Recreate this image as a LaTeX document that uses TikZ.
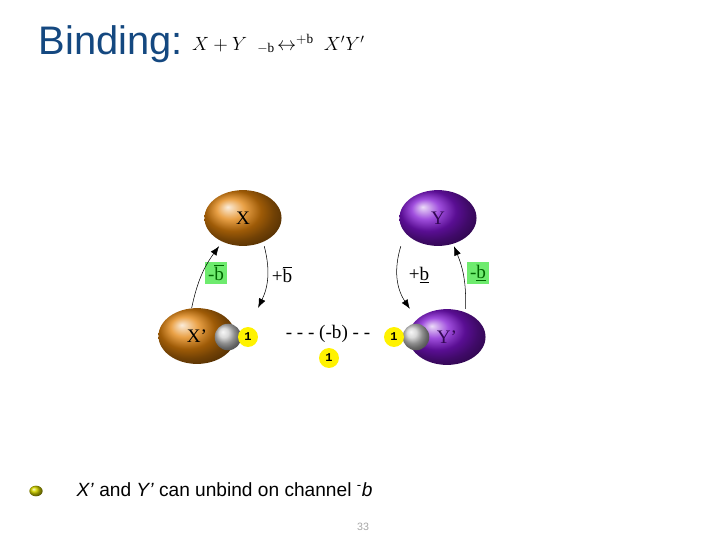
\documentclass[tikz,border=0pt]{standalone}
\usepackage{fontspec}
\setmainfont{Liberation Serif}
\setsansfont{Liberation Sans}
\setmonofont{Liberation Mono}
\usetikzlibrary{shapes.geometric,arrows.meta}
\definecolor{titleblue}{RGB}{20,72,128}
\definecolor{molorange}{RGB}{226,130,10}
\definecolor{molpurple}{RGB}{128,20,210}
\definecolor{chgreen}{RGB}{110,235,110}
\tikzset{
    molecule/.style={ellipse, minimum width=58pt, minimum height=42pt, inner sep=0pt, font=\Large},
    molX/.style={molecule, ball color=molorange},
    molY/.style={molecule, ball color=molpurple, text=molpurple!40!black},
    site/.style={circle, minimum size=20pt, inner sep=0pt, ball color=gray!40},
    count/.style={circle, fill=yellow, inner sep=0.5pt, minimum size=15pt, font=\ttfamily\bfseries\small},
    chan/.style={fill=chgreen, inner sep=2pt, text=green!40!black, font=\Large},
    plain/.style={font=\Large},
    flow/.style={-{Latex[length=7pt]}, thin}
}
\begin{document}
\begin{tikzpicture}[x=0.02646cm, y=-0.02646cm]
    \useasboundingbox (0,0) rectangle (720,540);
    % title
    \node[anchor=west, font=\sffamily\fontsize{30}{30}\selectfont, text=titleblue] (title) at (34,44) {Binding:};
    \node[anchor=west, font=\Large] (eqn) at (title.east) {$X+Y$\; $_{\mathrm{-b}}\!\leftrightarrow^{\mathrm{+b}}$\; $X'Y'$};
    % molecules
    \node[molX] (X) at (243,218) {X};
    \node[molY] (Y) at (438,218) {Y};
    \node[molX] (Xb) at (197,336) {X'};
    \node[molY] (Yb) at (447,337) {Y'};
    \node[site] (sx) at (228,337) {};
    \node[site] (sy) at (416,337) {};
    \node[count] (cx) at (248,337) {1};
    \node[count] (cy) at (394,337) {1};
    \node[count] (cb) at (329,358) {1};
    \node[plain] (link) at (328,334) {- - - (-b) - -};
    % channels
    \node[chan] (unx) at (216,273) {-$\overline{\mathrm{b}}$};
    \node[plain] (bx) at (282,275) {+$\overline{\mathrm{b}}$};
    \node[plain] (by) at (419,275) {+\underline{b}};
    \node[chan] (uny) at (478,273) {-\underline{b}};
    % reactions
    \draw[flow] ([xshift=-4]Xb.north) to[bend left=12] ([xshift=-18]X.south);
    \draw[flow] ([xshift=16]X.south) to[bend left=20] ([xshift=46]Xb.north);
    \draw[flow] ([xshift=-28]Y.south) to[bend right=25] ([xshift=-28]Yb.north);
    \draw[flow] ([xshift=14]Yb.north) to[bend right=12] ([xshift=12]Y.south);
    % footer
    \shade[ball color=yellow!60!olive] (36,491) ellipse (5pt and 4pt);
    \node[anchor=west, font=\sffamily\Large] (note) at (72,490) {\textit{X'} and \textit{Y'} can unbind on channel \textsuperscript{-}\textit{b}};
    \node[font=\sffamily\footnotesize, text=gray!70] (page) at (363,527) {33};
\end{tikzpicture}
\end{document}
